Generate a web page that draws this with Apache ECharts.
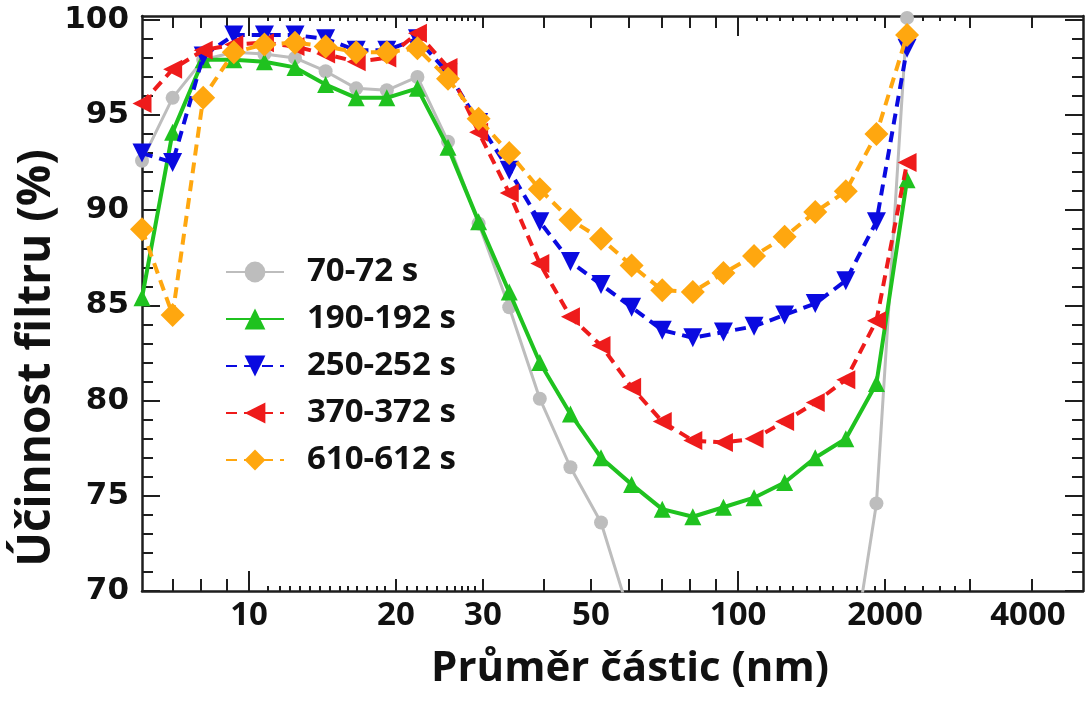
<!DOCTYPE html>
<html>
<head>
<meta charset="utf-8">
<script src="https://cdn.jsdelivr.net/npm/echarts@6/dist/echarts.min.js"></script>
<style>html,body{margin:0;padding:0;background:#fff}#c{width:1086px;height:702px}</style>
</head>
<body>
<div id="c"></div>
<script>
// channel index of each measured size bin (x position on the broken axis)
const channel = [0,1,2,3,4,5,6,7,8,9,10,11,12,13,14,15,16,17,18,19,20,21,22,23,24,25];
const seriesNames = ['70-72 s','190-192 s','250-252 s','370-372 s','610-612 s'];
const s70  = [92.6,95.9,97.9,98.3,98.2,98.0,97.3,96.4,96.3,97.0,93.6,89.3,84.9,80.1,76.5,73.6,68.4,null,null,null,null,null,null,64.3,74.6,100.1];
const s190 = [85.4,94.1,97.9,97.9,97.8,97.5,96.6,95.9,95.9,96.4,93.3,89.4,85.7,82.0,79.3,77.0,75.6,74.3,73.9,74.4,74.9,75.7,77.0,78.0,80.9,91.6];
const s250 = [93.0,92.5,98.1,99.2,99.2,99.2,99.0,98.4,98.4,99.0,97.2,94.6,92.1,89.4,87.3,86.1,84.9,83.7,83.3,83.6,83.9,84.5,85.1,86.3,89.4,98.5];
const s370 = [95.6,97.4,98.4,98.7,98.8,98.6,98.2,97.8,98.0,99.3,97.5,94.1,90.9,87.2,84.4,82.9,80.7,78.9,77.9,77.8,78.0,78.9,79.9,81.1,84.2,92.5];
const s610 = [89.0,84.5,95.9,98.3,98.7,98.8,98.6,98.3,98.3,98.5,96.9,94.8,93.0,91.1,89.5,88.5,87.1,85.8,85.7,86.7,87.6,88.6,89.9,91.0,94.0,99.2];

// x tick labels and their positions on the channel axis
const xTickLabels = ['10','20','30','50','100','2000','4000'];
const xTickPos    = [3.50, 8.30, 11.14, 14.67, 19.48, 24.28, 28.95];
const xMajorTicks = [3.50, 19.48];
const xMedTicks   = [1.01,1.93,2.78,8.30,11.14,13.14,14.67,15.92,16.99,17.91,18.76,24.28,27.06,29.08];
const xSmallTicks = [4.12,4.51,4.84,5.16,5.49,5.82,6.14,6.47,6.73,7.03,7.35,7.68,7.94,8.66,8.99,9.31,9.64,9.97,10.23,10.46,10.65,10.88,
                     20.10,20.42,20.85,21.27,21.73,22.16,22.58,23.04,23.37,23.95,24.93,25.52,26.08,26.57];
const yTicks      = [70,75,80,85,90,95,100];
const yMinorTicks = [71,72,73,74,76,77,78,79,81,82,83,84,86,87,88,89,91,92,93,94,96,97,98,99];

const X_MIN = 0, X_MAX = 30.75, Y_MIN = 70, Y_MAX = 100.2;
const AX = '#1e1e1e';

function xAx(pos, ticks, len, opts) {
  return Object.assign({
    type: 'value', position: pos, min: X_MIN, max: X_MAX,
    axisLine: { show: false, onZero: false },
    axisTick: { show: true, inside: true, length: len, customValues: ticks, lineStyle: { color: AX, width: 2 } },
    axisLabel: { show: false },
    splitLine: { show: false }
  }, opts || {});
}
function yAx(pos, ticks, len, opts) {
  return Object.assign({
    type: 'value', position: pos, min: Y_MIN, max: Y_MAX,
    axisLine: { show: false, onZero: false },
    axisTick: { show: true, inside: true, length: len, customValues: ticks, lineStyle: { color: AX, width: 2 } },
    axisLabel: { show: false },
    splitLine: { show: false }
  }, opts || {});
}
const lineAxis = { show: true, onZero: false, lineStyle: { color: AX, width: 2.5 } };

const xAxes = [
  xAx('bottom', xMedTicks, 12, {
    axisLine: lineAxis,
    axisLabel: {
      show: true, customValues: xTickPos, margin: 8,
      formatter: v => xTickLabels[xTickPos.indexOf(v)],
      fontFamily: 'Open Sans', fontWeight: 'bold', fontSize: 33, color: '#111'
    }
  }),
  xAx('bottom', xMajorTicks, 20),
  xAx('bottom', xSmallTicks, 5),
  xAx('top', xMedTicks, 12, { axisLine: lineAxis }),
  xAx('top', xMajorTicks, 20),
  xAx('top', xSmallTicks, 5)
];
const yAxes = [
  yAx('left', yTicks, 18, {
    axisLine: lineAxis,
    axisLabel: {
      show: true, customValues: yTicks, margin: 13,
      fontFamily: 'DejaVu Sans', fontWeight: 'bold', fontSize: 31, color: '#111'
    }
  }),
  yAx('left', yMinorTicks, 11),
  yAx('right', yTicks, 18, { axisLine: lineAxis }),
  yAx('right', yMinorTicks, 11)
];

function pairs(vals) { return channel.map((c, i) => [c, vals[i]]); }

const styles = [
  { color: '#bdbdbd', type: 'solid',  width: 3,   symbol: 'circle',   size: 14, rot: 0 },
  { color: '#1fc21f', type: 'solid',  width: 4,   symbol: 'triangle', size: 17, rot: 0 },
  { color: '#0a0ae0', type: [11, 7],  width: 4,   symbol: 'triangle', size: 19, rot: 180 },
  { color: '#ee1b1b', type: [11, 7],  width: 4,   symbol: 'triangle', size: 19, rot: 90 },
  { color: '#ffa70f', type: [11, 7],  width: 4,   symbol: 'diamond',  size: 24, rot: 0 }
];
const values = [s70, s190, s250, s370, s610];

const series = seriesNames.map((name, k) => ({
  name, type: 'line', xAxisIndex: 0, yAxisIndex: 0,
  data: pairs(values[k]),
  connectNulls: false,
  clip: true,
  symbol: styles[k].symbol, symbolSize: styles[k].size, symbolRotate: styles[k].rot,
  showAllSymbol: true,
  lineStyle: { color: styles[k].color, width: styles[k].width, type: styles[k].type },
  itemStyle: { color: styles[k].color },
  emphasis: { disabled: true },
  animation: false,
  z: 2 + k
}));

const chart = echarts.init(document.getElementById('c'), null, { renderer: 'canvas' });
chart.setOption({
  animation: false,
  backgroundColor: '#fff',
  grid: { left: 142, right: 3, top: 16, bottom: 111, containLabel: false },
  xAxis: xAxes,
  yAxis: yAxes,
  legend: {
    data: seriesNames,
    orient: 'vertical', left: 220, top: 250,
    itemWidth: 58, itemHeight: 26, itemGap: 13,
    textStyle: { fontFamily: 'Open Sans', fontWeight: 'bold', fontSize: 33, color: '#111', lineHeight: 34, padding: [0, 0, 0, 18] }
  },
  graphic: [
    { type: 'text', x: 630, y: 648, style: { text: 'Průměr částic (nm)', fontFamily: 'Open Sans', fontWeight: 'bold', fontSize: 42, fill: '#111', textAlign: 'center', textVerticalAlign: 'top' } },
    { type: 'text', x: 14, y: 358, rotation: Math.PI / 2,
      style: { text: 'Účinnost filtru (%)', fontFamily: 'Open Sans', fontWeight: 'bold', fontSize: 46, fill: '#111', textAlign: 'center', textVerticalAlign: 'top' } }
  ],
  series
});
</script>
</body>
</html>
